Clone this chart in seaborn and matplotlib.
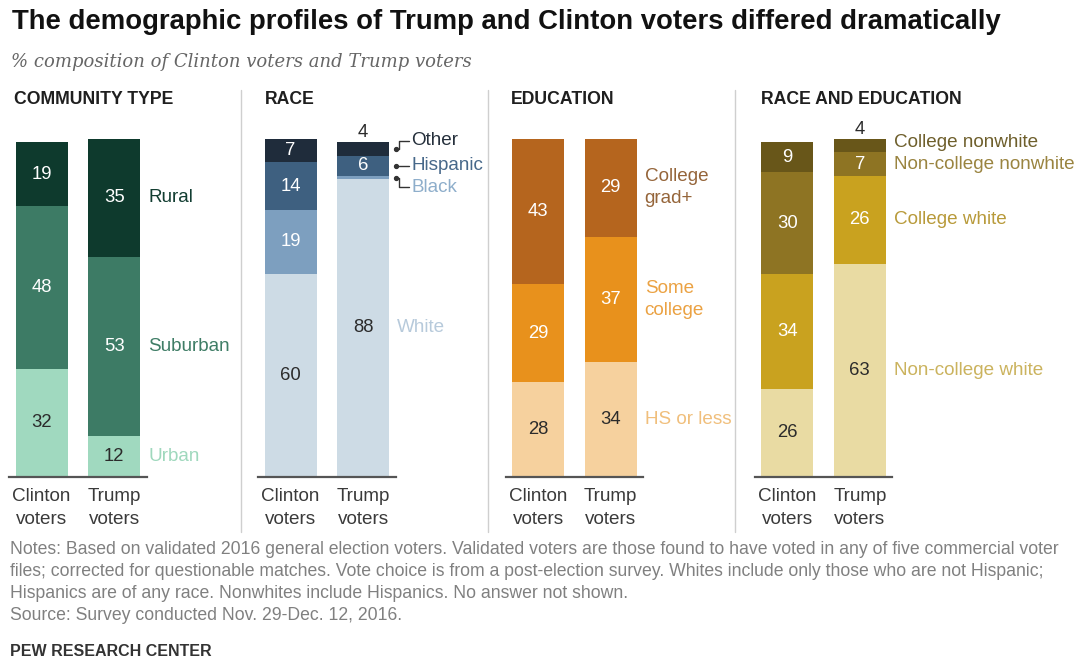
import matplotlib
matplotlib.use("Agg")
import matplotlib.pyplot as plt
import seaborn as sns
import pandas as pd
import numpy as np

# ---------------- data (segments listed bottom to top) ----------------
groups = ["Clinton\nvoters", "Trump\nvoters"]

community_segments = ["Urban", "Suburban", "Rural"]
community_clinton = [32, 48, 19]
community_trump = [12, 53, 35]

race_segments = ["White", "Black", "Hispanic", "Other"]
race_clinton = [60, 19, 14, 7]
race_trump = [88, 1, 6, 4]

education_segments = ["HS or less", "Some\ncollege", "College\ngrad+"]
education_clinton = [28, 29, 43]
education_trump = [34, 37, 29]

raceedu_segments = ["Non-college white", "College white",
                    "Non-college nonwhite", "College nonwhite"]
raceedu_clinton = [26, 34, 30, 9]
raceedu_trump = [63, 26, 7, 4]

panel_titles = ["COMMUNITY TYPE", "RACE", "EDUCATION", "RACE AND EDUCATION"]

# ---------------- styling ----------------
community_colors = ["#a0d9bf", "#3d7b65", "#0e3a2d"]
community_label_colors = ["#9fd8bd", "#3f7d66", "#123d31"]
race_colors = ["#cddbe5", "#7d9fbf", "#3e6080", "#1f2c3b"]
race_label_colors = ["#b7cadb", "#8eaecb", "#47688a", "#26303c"]
education_colors = ["#f6d19e", "#e8911c", "#b5651e"]
education_label_colors = ["#f0bf7c", "#eba243", "#95653a"]
raceedu_colors = ["#e9dba3", "#c9a21f", "#8e7423", "#685619"]
raceedu_label_colors = ["#cbb35e", "#b89a3a", "#9a8440", "#6e5f2c"]

sns.set_style("white")
plt.rcParams["font.family"] = ["Liberation Sans", "DejaVu Sans"]

W, H = 1079, 661
fig = plt.figure(figsize=(W / 100, H / 100), dpi=100)
fig.patch.set_facecolor("white")

BASE_Y = 476.7      # pixel row of the baseline
PX_PER_UNIT = 3.38  # pixels per percentage point
UNIT_PX = 72.5      # pixels between the two bar centres
BAR_W = 0.72
XL = (-0.45, 1.45)
panel_left = [9, 258, 505.5, 754.7]
TXT_DARK = "#2b2b2b"
VAL_SIZE = 13.3
LAB_SIZE = 13.6


def fx(x):
    return x / W


def fy(y):
    return 1 - y / H


def draw_panel(ax, segments, clinton, trump, colors, label_colors,
               label_nudge=None, connectors=False):
    n = len(segments)
    df = pd.DataFrame({
        "group": np.repeat(groups, n),
        "segment": segments * 2,
        "value": clinton + trump,
    })
    df["top"] = df.groupby("group", sort=False)["value"].cumsum()

    # cumulative bars drawn tallest first so each layer shows its own slice
    for seg, col in reversed(list(zip(segments, colors))):
        sub = df[df["segment"] == seg]
        sns.barplot(data=sub, x="group", y="top", order=groups, color=col,
                    saturation=1, width=BAR_W, errorbar=None, ax=ax,
                    linewidth=0)

    # value labels
    for gi, g in enumerate(groups):
        sub = df[df["group"] == g].reset_index(drop=True)
        for k, row in sub.iterrows():
            v, top = row["value"], row["top"]
            tcol = TXT_DARK if k == 0 else "white"
            if v >= 5:
                ax.text(gi, top - v / 2, f"{v}", ha="center", va="center",
                        fontsize=VAL_SIZE, color=tcol, clip_on=False)
            elif v >= 3 and k == n - 1:
                ax.text(gi, top + 0.3, f"{v}", ha="center", va="bottom",
                        fontsize=VAL_SIZE, color=TXT_DARK, clip_on=False)

    # category labels next to the Trump bar
    sub = df[df["group"] == groups[1]].reset_index(drop=True)
    nudge = label_nudge or {}
    for k, row in sub.iterrows():
        seg = row["segment"]
        mid = row["top"] - row["value"] / 2
        ly = mid + nudge.get(seg, 0)
        if connectors and seg in ("Other", "Hispanic", "Black"):
            x_dot, x_elb, x_txt = 1.45, 1.50, 1.665
            ax.plot([x_dot], [mid], marker="o", ms=2.8, color="#333333",
                    clip_on=False)
            ax.plot([x_dot, x_elb, x_elb, x_txt - 0.03],
                    [mid, mid, ly, ly], color="#333333", lw=1.0,
                    clip_on=False)
            ax.text(x_txt, ly, seg, ha="left", va="center", fontsize=LAB_SIZE,
                    color=label_colors[k], clip_on=False)
        else:
            ax.text(1.47, ly, seg, ha="left", va="center", fontsize=LAB_SIZE,
                    color=label_colors[k], clip_on=False, linespacing=1.35)

    ax.set_xlim(*XL)
    ax.set_ylim(0, 100)
    ax.set_xlabel("")
    ax.set_ylabel("")
    ax.set_yticks([])
    for s in ("top", "left", "right"):
        ax.spines[s].set_visible(False)
    ax.spines["bottom"].set_color("#555555")
    ax.spines["bottom"].set_linewidth(1.6)
    ax.tick_params(axis="x", length=0, pad=8, labelsize=13.6,
                   labelcolor="#3a3a3a")
    for lbl in ax.get_xticklabels():
        lbl.set_linespacing(1.45)
    ax.patch.set_alpha(0)


axes = []
for L in panel_left:
    ax = fig.add_axes([fx(L), fy(BASE_Y), fx((XL[1] - XL[0]) * UNIT_PX),
                       (100 * PX_PER_UNIT) / H])
    axes.append(ax)

draw_panel(axes[0], community_segments, community_clinton, community_trump,
           community_colors, community_label_colors)
draw_panel(axes[1], race_segments, race_clinton, race_trump,
           race_colors, race_label_colors,
           label_nudge={"Other": 2.4, "Black": -2.8}, connectors=True)
draw_panel(axes[2], education_segments, education_clinton, education_trump,
           education_colors, education_label_colors)
draw_panel(axes[3], raceedu_segments, raceedu_clinton, raceedu_trump,
           raceedu_colors, raceedu_label_colors,
           label_nudge={"College nonwhite": 1.0})

# panel headings
for L, t in zip([14, 265, 511, 761], panel_titles):
    fig.text(fx(L), fy(99), t, ha="left", va="center", fontsize=12.7,
             fontweight="bold", color="#1f1f1f")

# divider rules between panels
for x in (240.5, 488, 735):
    fig.add_artist(plt.Line2D([fx(x), fx(x)], [fy(90), fy(532)],
                              color="#cfcfcf", lw=1.0))

# title and subtitle
fig.text(fx(12), fy(22), "The demographic profiles of Trump and Clinton "
         "voters differed dramatically", ha="left", va="center",
         fontsize=19.8, fontweight="bold", color="#111111")
fig.text(fx(11), fy(62), "% composition of Clinton voters and Trump voters",
         ha="left", va="center", fontsize=13.0, fontstyle="italic",
         family="DejaVu Serif", color="#666666")

# notes
note_font = ["Liberation Sans Narrow", "Liberation Sans", "DejaVu Sans"]
notes = [
    "Notes: Based on validated 2016 general election voters. Validated voters "
    "are those found to have voted in any of five commercial voter",
    "files; corrected for questionable matches. Vote choice is from a "
    "post-election survey. Whites include only those who are not Hispanic;",
    "Hispanics are of any race. Nonwhites include Hispanics. No answer not "
    "shown.",
    "Source: Survey conducted Nov. 29-Dec. 12, 2016.",
]
for i, line in enumerate(notes):
    fig.text(fx(10), fy(549 + i * 22), line, ha="left", va="center",
             fontsize=12.7, color="#808080", family=note_font)
fig.text(fx(10), fy(651), "PEW RESEARCH CENTER", ha="left", va="center",
         fontsize=11.5, fontweight="bold", color="#333333", family=note_font)

fig.savefig("out.png", dpi=100, facecolor="white")
